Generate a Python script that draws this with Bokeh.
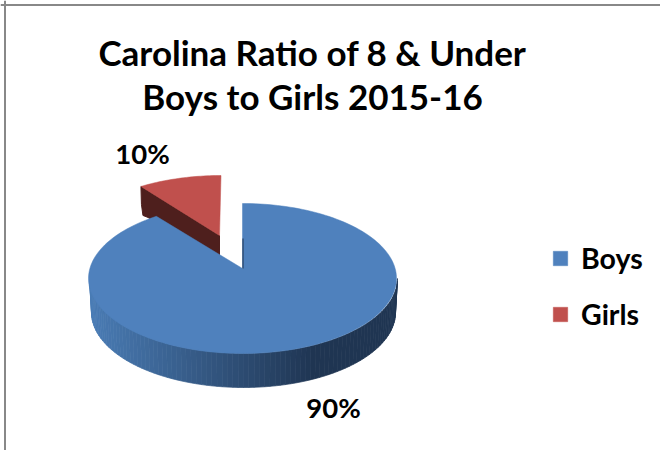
import numpy as np
from bokeh.embed import file_html
from bokeh.resources import INLINE
from bokeh.plotting import figure
from bokeh.models import Range1d, Span, Legend, LegendItem
from bokeh.core.properties import value

title_lines = ["Carolina Ratio of 8 & Under", "Boys to Girls 2015-16"]
categories = ["Boys", "Girls"]
shares = [90, 10]
slice_labels = ["90%", "10%"]

W, H = 660, 450
FONT = "Lato"
p = figure(width=W, height=H, output_backend="svg", toolbar_location=None,
           x_range=Range1d(0, W), y_range=Range1d(H, 0), min_border=0,
           x_axis_location=None, y_axis_location=None, outline_line_color=None,
           background_fill_color="white", border_fill_color="white")
p.grid.visible = False

# chart frame
for dim, loc in (("width", 4.5), ("height", 4.5)):
    p.add_layout(Span(location=loc, dimension=dim, line_color="#888888", line_width=2))

RX, RY = 154, 75
CX, CY = 243, 278
DEPTH = 34
total = sum(shares)
boys_sweep = 360 * shares[0] / total
girls_sweep = 360 * shares[1] / total * 0.87   # foreshortened by the 3D view


def rim(cx, cy, a0, a1, n=60, rx=RX, ry=RY):
    t = np.radians(np.linspace(a0, a1, n))
    return cx + rx * np.sin(t), cy - ry * np.cos(t)


# Girls slice (exploded)
gcx, gcy = 220.5, 250
gax, gay = 219, 235
gx, gy = rim(gcx, gcy, -girls_sweep, 0, 30)
p.patch([gx[0], gax, gax, gx[0] + 7, gx[0] + 2, gx[0] + 0.5],
        [gy[0], gay, gay + 20, gy[0] + 31, gy[0] + 29, gy[0] + 18],
        fill_color="#4E1F1D", line_color="#4E1F1D", line_width=1)
girls_r = p.patch(list(gx) + [gax], list(gy) + [gay], fill_color="#C0504D", line_color="#C0504D", line_width=0.5)

# Boys side wall
c_left = np.array([0x4A, 0x7C, 0xB5])
c_right = np.array([0x1F, 0x35, 0x52])
a = np.linspace(90, 270, 91)
xs, ys, cols = [], [], []
for a0, a1 in zip(a[:-1], a[1:]):
    x0, y0 = rim(CX, CY, a0, a1, 2)
    x1, y1 = rim(CX, CY + DEPTH, a0, a1, 2, rx=RX - 2)
    xs.append([x0[0], x0[1], x1[1], x1[0]])
    ys.append([y0[0], y0[1], y1[1], y1[0]])
    f = np.clip((x0.mean() - 89) / (315 - 89), 0, 1)
    c = c_left + (c_right - c_left) * f
    cols.append("#%02x%02x%02x" % tuple(int(v) for v in c))
p.patches(xs, ys, fill_color=cols, line_color=cols, line_width=0.7)

# Boys top face
bax, bay = 242, 268
bx, by = rim(CX - 1, CY, 0, boys_sweep + 2, 200)
boys_r = p.patch(list(bx) + [bax], list(by) + [bay], fill_color="#4F81BD", line_color="#4F81BD", line_width=0.5)
p.segment([bax + 0.5], [bay - 30], [bax + 0.5], [bay], line_color="#1F3552", line_width=1)

# Title and data labels
p.text([312, 312], [51, 95], text=title_lines, text_font=value(FONT), text_font_style="bold",
       text_font_size="35px", text_align="center", text_baseline="middle", text_color="black")
p.text([333, 142], [407, 153], text=slice_labels, text_font=value(FONT), text_font_style="bold",
       text_font_size="27.5px", text_align="center", text_baseline="middle", text_color="black")

legend = Legend(items=[LegendItem(label=categories[0], renderers=[boys_r]),
                       LegendItem(label=categories[1], renderers=[girls_r])],
                location=(551, 119), orientation="vertical", border_line_color=None,
                background_fill_alpha=0, glyph_width=18, glyph_height=18,
                label_text_font=FONT, label_text_font_style="bold", label_text_font_size="28.5px",
                label_standoff=12, spacing=22, padding=0, margin=0, label_text_color="black")
p.add_layout(legend, "center")

open("out.html", "w").write(file_html(p, INLINE))
